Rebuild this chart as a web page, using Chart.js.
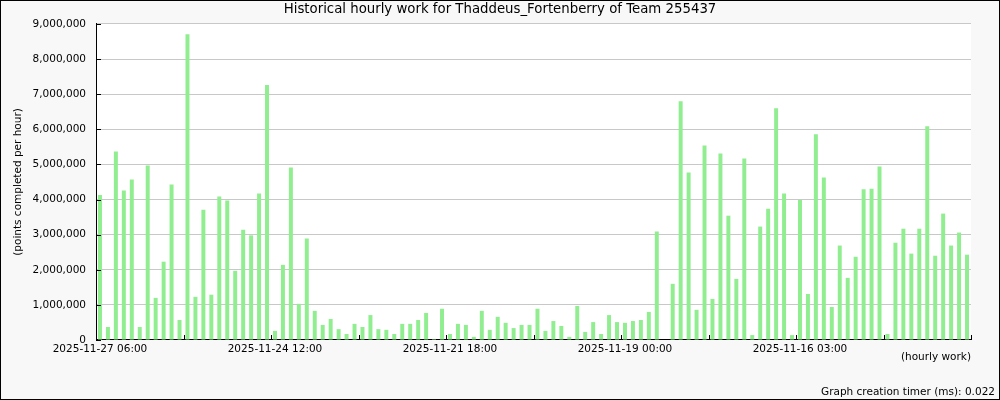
<!DOCTYPE html>
<html>
<head>
<meta charset="utf-8">
<title>Historical hourly work</title>
<script src="https://cdn.jsdelivr.net/npm/chart.js@4.4.1/dist/chart.umd.min.js"></script>
<style>
  html, body { margin: 0; padding: 0; background: #f8f8f8; }
</style>
</head>
<body>
<canvas id="workChart" width="1000" height="400"></canvas>
<script>
// tick labels shown under the axis (every 22nd bar), newest first
const tickLabels = ["2025-11-27 06:00", "2025-11-24 12:00", "2025-11-21 18:00", "2025-11-19 00:00", "2025-11-16 03:00"];
const labelEvery = 22;
const markEvery = 11;

// points completed per bar
const points = [
  4130000, 370000, 5370000, 4260000, 4570000, 370000, 4970000, 1200000, 2230000, 4430000, 570000,
  8710000, 1230000, 3710000, 1290000, 4090000, 3970000, 1970000, 3140000, 2980000, 4170000, 7260000,
  260000, 2140000, 4910000, 1030000, 2890000, 830000, 430000, 600000, 310000, 170000, 460000,
  370000, 710000, 310000, 290000, 170000, 460000, 460000, 570000, 770000, 30000, 890000,
  170000, 460000, 430000, 90000, 830000, 290000, 660000, 490000, 340000, 430000, 430000,
  890000, 260000, 540000, 400000, 90000, 970000, 230000, 510000, 170000, 710000, 510000,
  490000, 540000, 570000, 800000, 3090000, 0, 1600000, 6800000, 4770000, 860000, 5540000,
  1170000, 5310000, 3540000, 1740000, 5170000, 140000, 3230000, 3740000, 6600000, 4170000, 140000,
  3990000, 1310000, 5860000, 4630000, 940000, 2690000, 1770000, 2370000, 4290000, 4310000, 4940000,
  170000, 2770000, 3170000, 2460000, 3170000, 6090000, 2400000, 3600000, 2690000, 3060000, 2430000
];

const labels = points.map((_, i) => (i % labelEvery === 0 ? tickLabels[i / labelEvery] : ""));

Chart.defaults.font.family = "'DejaVu Sans', sans-serif";
Chart.defaults.color = "#000";

// background, inward tick marks, footer and frame
const decor = {
  id: "decor",
  beforeDraw(chart) {
    const { ctx, chartArea: a } = chart;
    ctx.save();
    ctx.fillStyle = "#f8f8f8";
    ctx.fillRect(0, 0, chart.width, chart.height);
    ctx.fillStyle = "#ffffff";
    ctx.fillRect(a.left, a.top, a.right - a.left, a.bottom - a.top);
    ctx.restore();
  },
  afterDraw(chart) {
    const { ctx, chartArea: a } = chart;
    const xs = chart.scales.x;
    const ys = chart.scales.y;
    ctx.save();
    ctx.strokeStyle = "#000";
    ctx.lineWidth = 1;
    ctx.beginPath();
    const half = (xs.getPixelForValue(1) - xs.getPixelForValue(0)) / 2;
    for (let i = 0; i <= points.length; i += markEvery) {
      const px = Math.round(xs.getPixelForValue(i) - half) + 0.5;
      ctx.moveTo(px, a.bottom);
      ctx.lineTo(px, a.bottom - 5);
    }
    ys.ticks.forEach((t) => {
      const py = Math.round(ys.getPixelForValue(t.value)) + 0.5;
      ctx.moveTo(a.left, py);
      ctx.lineTo(a.left + 5, py);
    });
    ctx.stroke();

    ctx.font = "10.5px 'DejaVu Sans'";
    ctx.fillStyle = "#000";
    ctx.textAlign = "right";
    ctx.textBaseline = "middle";
    ctx.fillText("Graph creation timer (ms): 0.022", 995, 392);

    ctx.strokeRect(0.5, 0.5, chart.width - 1, chart.height - 1);
    ctx.restore();
  }
};

new Chart(document.getElementById("workChart"), {
  type: "bar",
  data: {
    labels,
    datasets: [{
      data: points,
      backgroundColor: "#90ee90",
      borderWidth: 0,
      barPercentage: 0.5,
      categoryPercentage: 1.0
    }]
  },
  options: {
    responsive: false,
    animation: false,
    layout: { padding: 0 },
    plugins: {
      legend: { display: false },
      tooltip: { enabled: false },
      title: {
        display: true,
        text: "Historical hourly work for Thaddeus_Fortenberry of Team 255437",
        font: { size: 13.3, weight: "normal" },
        color: "#000",
        padding: { top: 2, bottom: 6 }
      }
    },
    scales: {
      x: {
        grid: { display: false, drawTicks: false },
        border: { display: true, color: "#000", width: 1 },
        ticks: {
          autoSkip: false,
          maxRotation: 0,
          padding: 3,
          font: { size: 10.5 }
        },
        title: {
          display: true,
          text: "(hourly work)",
          align: "end",
          font: { size: 10.5 },
          padding: { top: 0, bottom: 36 }
        },
        afterFit: (s) => { s.height = 60; }
      },
      y: {
        min: 0,
        max: 9000000,
        grid: { color: "#c8c8c8", drawTicks: false },
        border: { display: true, color: "#000", width: 1 },
        ticks: {
          stepSize: 1000000,
          padding: 10,
          font: { size: 10.5 },
          callback: (v) => v.toLocaleString("en-US")
        },
        title: {
          display: true,
          text: "(points completed per hour)",
          font: { size: 10.5 },
          padding: { top: 12, bottom: 0 }
        },
        afterFit: (s) => { s.width = 96; }
      },
      spacer: {
        type: "linear",
        position: "right",
        grid: { display: false, drawTicks: false },
        border: { display: false },
        ticks: { display: false },
        afterFit: (s) => { s.width = 29; }
      }
    }
  },
  plugins: [decor]
});
</script>
</body>
</html>
